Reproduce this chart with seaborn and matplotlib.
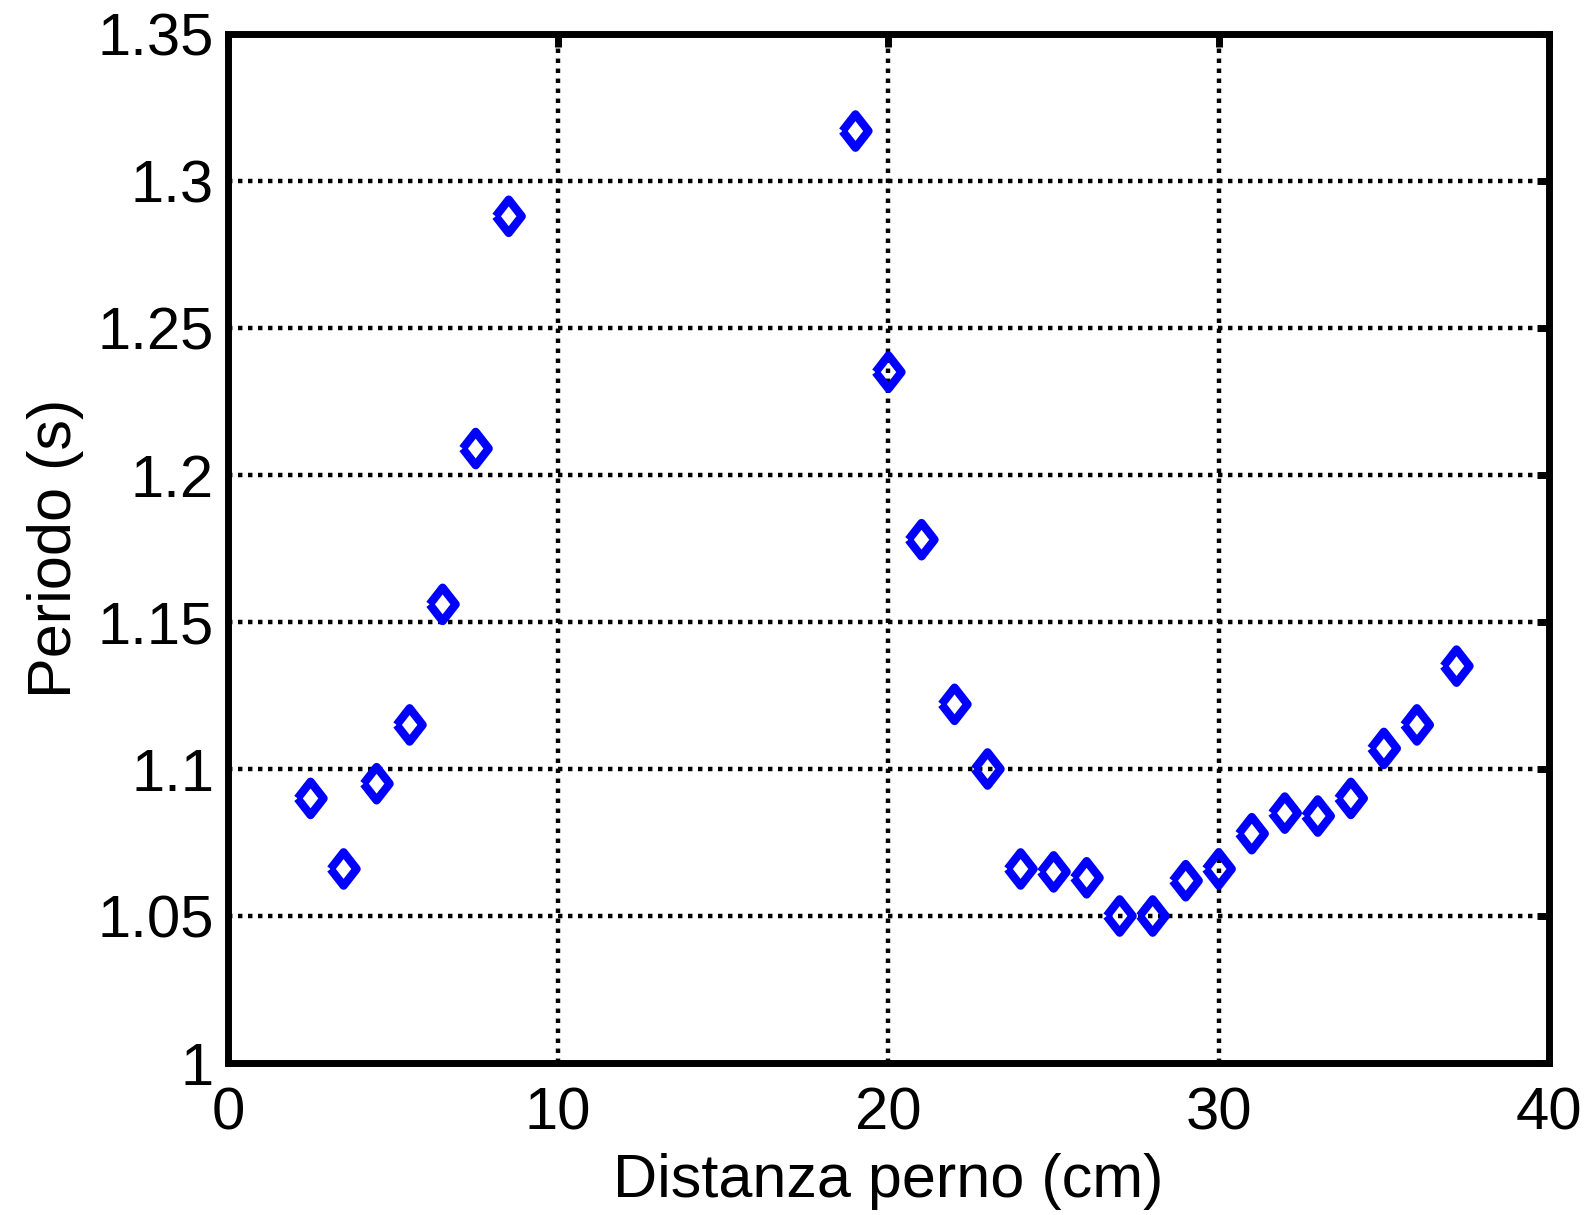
import matplotlib
matplotlib.use("Agg")
import matplotlib.pyplot as plt
import matplotlib.ticker as mticker
import seaborn as sns
import pandas as pd

# Data
distanza_cm = [2.5, 3.5, 4.5, 5.5, 6.5, 7.5, 8.5,
               19, 20, 21, 22, 23, 24, 25, 26, 27, 28, 29, 30,
               31, 32, 33, 34, 35, 36, 37.2]
periodo_s = [1.090, 1.066, 1.095, 1.115, 1.156, 1.209, 1.288,
             1.317, 1.235, 1.178, 1.122, 1.100, 1.066, 1.065, 1.063,
             1.050, 1.050, 1.062, 1.066, 1.078, 1.085, 1.084, 1.090,
             1.107, 1.115, 1.135]
x_ticks = [0, 10, 20, 30, 40]
y_ticks = [1.0, 1.05, 1.1, 1.15, 1.2, 1.25, 1.3, 1.35]

sns.set_theme(style="white")
plt.rcParams['font.family'] = ['Liberation Sans', 'DejaVu Sans']

df = pd.DataFrame({"x": distanza_cm, "y": periodo_s})

fig = plt.figure(figsize=(15.91, 12.15), dpi=100)
ax = fig.add_axes([0.1433, 0.1251, 0.8303, 0.8469])

diamond = [(-0.78, 0.0), (0.0, 1.0), (0.78, 0.0), (0.0, -1.0), (-0.78, 0.0)]
sns.scatterplot(data=df, x="x", y="y", ax=ax, marker=diamond, s=24 ** 2,
                facecolor="none", edgecolor="#0000ff", linewidth=6.0,
                legend=False, zorder=3)

ax.set_xlim(0, 40)
ax.set_ylim(1.0, 1.35)
ax.set_xticks(x_ticks)
ax.set_yticks(y_ticks)
ax.yaxis.set_major_formatter(mticker.FuncFormatter(lambda v, p: f"{v:g}"))
ax.xaxis.set_major_formatter(mticker.FuncFormatter(lambda v, p: f"{v:g}"))

ax.grid(True, color="black", linestyle=(0, (1.0, 1.25)), linewidth=3.2)
ax.set_axisbelow(True)

for sp in ax.spines.values():
    sp.set_visible(True)
    sp.set_color("black")
    sp.set_linewidth(5.0)

ax.tick_params(axis="both", which="major", direction="in", length=9, width=5.0,
               color="black", labelsize=43, labelcolor="black",
               top=True, right=True)
ax.tick_params(axis="x", pad=17)
ax.tick_params(axis="y", pad=10)

ax.set_xlabel("Distanza perno (cm)", fontsize=44, color="black", labelpad=8)
ax.set_ylabel("Periodo (s)", fontsize=44, color="black", labelpad=10)

fig.savefig("out.png", dpi=100, facecolor="white")
